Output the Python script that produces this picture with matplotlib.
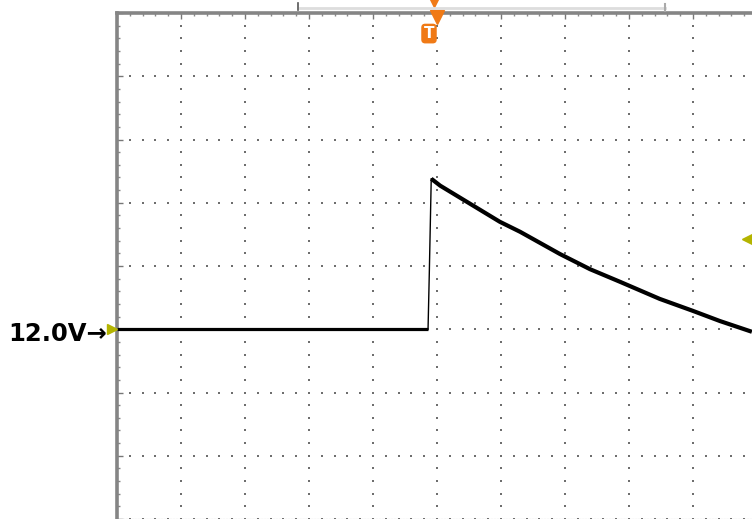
import numpy as np
import matplotlib.pyplot as plt
from matplotlib.patches import FancyBboxPatch
from matplotlib.lines import Line2D

# Scope trace, in screen divisions (x: 10 time div, y: 8 vertical div)
base_t = [0.0, 4.86]
base_v = [3.0, 3.0]
edge_t = [4.86, 4.88, 4.91]
edge_v = [3.0, 3.9, 5.38]
decay_t = [4.91, 5.05, 5.36, 5.67, 5.98, 6.30, 6.92, 7.39, 7.86, 8.48, 9.00, 9.42, 9.92]
decay_v = [5.38, 5.27, 5.08, 4.89, 4.70, 4.54, 4.19, 3.95, 3.75, 3.48, 3.29, 3.13, 2.96]

ref_label = "12.0V\u2192"
ref_level = 3.0
trig_t = 4.875
aux_level = 4.43

W, H = 752, 519
fig = plt.figure(figsize=(W / 100, H / 100), dpi=100)
ax = fig.add_axes([117 / W, 0, 640 / W, 506 / H])
ax.set_xlim(0, 10)
ax.set_ylim(0, 8)

# dotted graticule
grid_c = '#6e6e6e'
for gx in range(1, 10):
    ys = np.arange(0, 8.01, 0.2)
    ax.scatter(np.full(ys.shape, gx), ys, s=1.6, marker='s', color=grid_c, lw=0, zorder=1)
for gy in range(0, 8):
    xs = np.arange(0, 10.01, 0.2)
    ax.scatter(xs, np.full(xs.shape, gy), s=1.6, marker='s', color=grid_c, lw=0, zorder=1)

# trace
ax.plot(base_t, base_v, color='black', lw=2.3, zorder=3, solid_capstyle='butt')
ax.plot(edge_t, edge_v, color='black', lw=1.0, zorder=3)
ax.plot(decay_t, decay_v, color='black', lw=3.0, zorder=3, solid_capstyle='butt',
        solid_joinstyle='round')

# frame and rulers
ax.spines['right'].set_visible(False)
for s in ['top', 'left']:
    ax.spines[s].set_color('#858585')
    ax.spines[s].set_linewidth(2.6)
ax.spines['bottom'].set_color('#9a9a9a')
ax.spines['bottom'].set_linewidth(0.8)
ax.spines['bottom'].set_linestyle(':')
ax.xaxis.tick_top()
ax.set_xticks(range(11))
ax.set_xticks(np.arange(0, 10.01, 0.2), minor=True)
ax.set_yticks(range(9))
ax.set_yticks(np.arange(0, 8.01, 0.2), minor=True)
ax.tick_params(which='major', direction='in', length=4, width=1, color='#777777',
               labeltop=False, labelleft=False, labelbottom=False)
ax.tick_params(which='minor', direction='in', length=2.5, width=1, color='#888888')

# markers
orange = '#F07A16'
olive = '#B4B400'
ax.plot([5.0], [7.94], marker='v', ms=10, color=orange, clip_on=False, zorder=5)
ax.plot([4.95], [8.19], marker='v', ms=9, color=orange, clip_on=False, zorder=5)
box = FancyBboxPatch((trig_t - 0.11, 7.53), 0.22, 0.29, boxstyle='round,pad=0,rounding_size=0.05',
                     fc=orange, ec=orange, clip_on=False, zorder=5)
ax.add_patch(box)
ax.text(trig_t, 7.675, 'T', color='white', fontsize=11, fontweight='bold',
        ha='center', va='center', zorder=6)
ax.plot([-0.08], [ref_level], marker='>', ms=7, color=olive, clip_on=False, zorder=5)
ax.plot([9.84], [aux_level], marker='<', ms=7, color=olive, clip_on=False, zorder=5)

# cropped status bar at the very top
fig.add_artist(Line2D([300 / W, 665 / W], [1 - 8 / H, 1 - 8 / H], color='#dddddd', lw=2.0))
fig.add_artist(Line2D([665 / W, 665 / W], [1 - 4 / H, 1 - 11 / H], color='#aaaaaa', lw=1.5))
fig.add_artist(Line2D([298 / W, 298 / W], [1 - 3 / H, 1 - 10 / H], color='#555555', lw=1.2))

fig.text(107 / W, 1 - 334 / H, ref_label, ha='right', va='center',
         fontsize=17.5, fontweight='bold', color='black')

fig.savefig('out.png', dpi=100)
